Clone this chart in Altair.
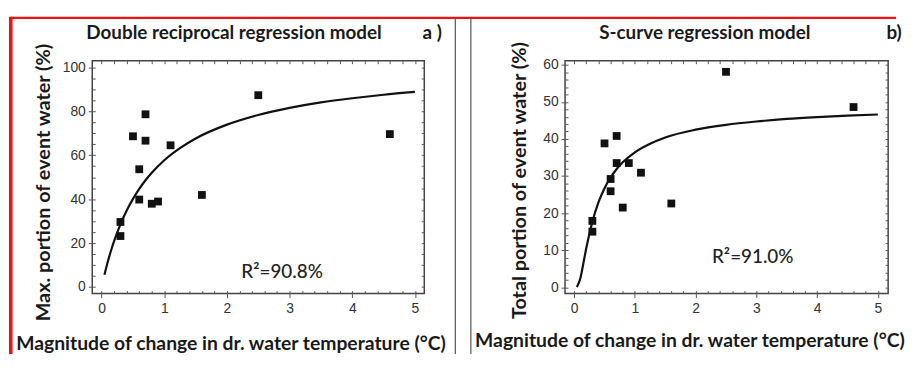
import altair as alt
import pandas as pd

# ---------------- data ----------------
x_obs = [0.3, 0.3, 0.5, 0.7, 0.7, 0.6, 0.6, 0.8, 0.9, 1.1, 1.6, 2.5, 4.6]
y_max_portion = [29.6, 23.2, 68.6, 78.6, 66.6, 53.6, 39.8, 37.9, 38.9, 64.5, 41.9, 87.3, 69.6]
y_total_portion = [15.0, 17.9, 38.8, 40.8, 33.5, 29.2, 25.9, 21.5, 33.5, 30.9, 22.6, 58.1, 48.6]

curve_x = [0.045, 0.1, 0.15, 0.2, 0.3, 0.4, 0.5, 0.6, 0.7, 0.8, 1.0, 1.25, 1.5,
           2.0, 2.5, 3.0, 3.5, 4.0, 4.5, 5.0]
curve_double_reciprocal = [5.6, 11.7, 16.6, 21.0, 28.5, 34.8, 40.1, 44.7, 48.6, 52.0,
                           57.7, 63.2, 67.6, 73.9, 78.3, 81.5, 84.0, 85.9, 87.5, 88.8]
curve_s = [0.1, 2.3, 6.3, 10.6, 17.7, 22.9, 26.7, 29.6, 31.9, 33.7,
           36.4, 38.7, 40.4, 42.5, 43.8, 44.7, 45.4, 45.9, 46.3, 46.6]

x_ticks = [0, 1, 2, 3, 4, 5]
x_minor = [0, 0.2, 0.4, 0.6, 0.8, 1, 1.2, 1.4, 1.6, 1.8, 2, 2.2, 2.4, 2.6, 2.8, 3,
           3.2, 3.4, 3.6, 3.8, 4, 4.2, 4.4, 4.6, 4.8, 5]
y_ticks_a = [0, 20, 40, 60, 80, 100]
y_minor_a = [0, 5, 10, 15, 20, 25, 30, 35, 40, 45, 50, 55, 60, 65, 70, 75, 80, 85,
             90, 95, 100]
y_ticks_b = [0, 10, 20, 30, 40, 50, 60]
y_minor_b = [0, 2, 4, 6, 8, 10, 12, 14, 16, 18, 20, 22, 24, 26, 28, 30, 32, 34, 36,
             38, 40, 42, 44, 46, 48, 50, 52, 54, 56, 58, 60]

x_title = "Magnitude of change in dr. water temperature (°C)"

TITLE_FONT = "Lato"
LABEL_FONT = "Liberation Sans"
INK = "#111111"


def panel(y_vals, curve_vals, xdom, ydom, w, h, ymajor, yminor, title, tag, ytitle,
          r2_text, r2_x, r2_y, title_x, tag_x, ytitle_x, ytitle_y, xtitle_x, xtitle_y,
          decorations):
    pts = pd.DataFrame({"x": x_obs, "y": y_vals})
    crv = pd.DataFrame({"x": curve_x, "y": curve_vals})
    r2 = pd.DataFrame({"x": [r2_x], "y": [r2_y], "t": [r2_text]})
    one = pd.DataFrame({"a": [0]})

    xs = alt.Scale(domain=xdom, nice=False, zero=False)
    ys = alt.Scale(domain=ydom, nice=False, zero=False)

    def inward(orient, values):
        return alt.Axis(orient=orient, values=values, labels=False, domain=False,
                        grid=False, ticks=True, tickSize=3, offset=-3, title=None,
                        tickColor="#555555", tickWidth=1)

    points = alt.Chart(pts).mark_square(size=62, color=INK, opacity=1).encode(
        x=alt.X("x:Q", scale=xs, axis=alt.Axis(
            orient="bottom", values=x_ticks, grid=False, domain=False, tickSize=4,
            tickColor="#555555", labelPadding=4, labelFont=LABEL_FONT,
            labelFontSize=14, labelColor="#333333", title=None)),
        y=alt.Y("y:Q", scale=ys, axis=alt.Axis(
            orient="left", values=ymajor, grid=False, domain=False, tickSize=4,
            tickColor="#555555", labelPadding=3, labelFont=LABEL_FONT,
            labelFontSize=14, labelColor="#333333", title=None)),
    )
    curve = alt.Chart(crv).mark_line(color=INK, strokeWidth=2.2, interpolate="monotone").encode(
        x=alt.X("x:Q", scale=xs, axis=inward("bottom", x_minor)),
        y=alt.Y("y:Q", scale=ys, axis=inward("right", yminor)),
    )
    r2_mark = alt.Chart(r2).mark_text(font=TITLE_FONT, fontSize=19, color="#222222",
                                      fontWeight=500).encode(
        x=alt.X("x:Q", scale=xs, axis=inward("top", x_minor)),
        y=alt.Y("y:Q", scale=ys, axis=alt.Axis(
            orient="left", values=yminor, labels=False, domain=False, grid=False,
            tickSize=3, offset=-3, title=None, tickColor="#555555")),
        text="t:N",
    )

    def txt(s, x, y, angle=0, size=16):
        return alt.Chart(one).mark_text(
            text=s, font=TITLE_FONT, fontSize=size, fontWeight="bold", color="#1a1a1a",
            angle=angle, baseline="middle", align="center"
        ).encode(x=alt.value(x), y=alt.value(y))

    texts = [
        txt(title, title_x, -28, size=19),
        txt(tag, tag_x, -28, size=19),
        txt(ytitle, ytitle_x, ytitle_y, angle=270, size=20),
        txt(x_title, xtitle_x, xtitle_y, size=19.5),
    ]
    layers = [curve, points, r2_mark] + texts + decorations
    return alt.layer(*layers).resolve_axis(x="independent", y="independent").properties(
        width=w, height=h)


def rule(x1, x2, y1, y2, color, width):
    return alt.Chart(pd.DataFrame({"a": [0]})).mark_rule(
        color=color, strokeWidth=width, strokeCap="butt"
    ).encode(x=alt.value(x1), x2=alt.value(x2), y=alt.value(y1), y2=alt.value(y2))


RED = "#f21111"
left_decor = [
    rule(-82.2, -82.2, -44.4, 296, RED, 3.6),       # red left border
    rule(-82.2, 811, -43.2, -43.2, RED, 2.4),        # red top border
    rule(366.3, 366.3, -42, 296, "#555555", 1.2),    # panel separator
    rule(382, 382, -42, 296, "#555555", 1.2),        # panel separator
]

left = panel(y_max_portion, curve_double_reciprocal, [-0.15, 5.15], [-3, 103], 335, 235,
             y_ticks_a, y_minor_a, "Double reciprocal regression model", "a )",
             "Max. portion of event water (%)", "R²=90.8%", 2.88, 7.0,
             143, 343, -49, 123, 140, 286, left_decor)

right = panel(y_total_portion, curve_s, [-0.15, 5.17], [-1.7, 61.1], 326, 235,
              y_ticks_b, y_minor_b, "S-curve regression model", "b)",
              "Total portion of event water (%)", "R²=91.0%", 2.94, 8.2,
              141, 332, -45, 121, 126, 283, [])

chart = alt.hconcat(left, right, spacing=142, bounds="flush").configure_view(
    stroke="#444444", strokeWidth=1.5
).properties(padding={"left": 0, "top": 4.6, "right": 0, "bottom": 0},
             background="white")

chart.save("out.html", embed_options={"renderer": "svg", "actions": False})
